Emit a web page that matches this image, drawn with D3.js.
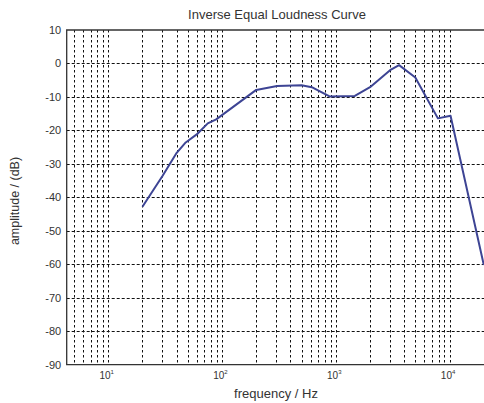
<!DOCTYPE html>
<html><head><meta charset="utf-8">
<script src="https://cdn.jsdelivr.net/npm/d3@7"></script>
<style>body{margin:0;background:#fff}svg{display:block}text{font-family:"Liberation Sans",Arial,sans-serif;fill:#333}</style>
</head><body><svg id="c" width="484" height="403"></svg>
<script>
const freqs = [20, 30, 40, 48, 60, 75, 89, 200, 305, 500, 615, 890, 1470, 2000, 3000, 3600, 5000, 7900, 10200, 20000];
const amps = [-42.8, -33.6, -26.7, -23.6, -21.2, -17.9, -16.7, -7.9, -6.7, -6.5, -7.1, -9.9, -9.7, -7.1, -2.0, -0.5, -4.2, -16.4, -15.6, -60.2];
const yTicks = [10, 0, -10, -20, -30, -40, -50, -60, -70, -80, -90];
const xMajor = [10, 100, 1000, 10000];
const xMajorExp = ["1", "2", "3", "4"];
const xDomain = [4.32, 20900];
const yDomain = [-90, 10];
const title = "Inverse Equal Loudness Curve";
const xLabel = "frequency / Hz";
const yLabel = "amplitude / (dB)";

const L = 66.7, R = 486, T = 30, B = 364.7;
const svg = d3.select("#c");
const x = d3.scaleLog().domain(xDomain).range([L, R]);
const y = d3.scaleLinear().domain(yDomain).range([B, T]);

const vgrid = [];
for (let d = 1; d <= 10000; d *= 10) for (let k = 1; k < 10; k++) { const v = d * k; if (v > xDomain[0] && v < xDomain[1]) vgrid.push(v); }
const g = svg.append("g");
g.selectAll("line.v").data(vgrid).enter().append("line")
  .attr("x1", d => Math.round(x(d)) + 0.5).attr("x2", d => Math.round(x(d)) + 0.5)
  .attr("y1", T).attr("y2", B).attr("stroke", "#111").attr("stroke-width", 1).attr("stroke-dasharray", "2.5,2.5");
g.selectAll("line.h").data(yTicks.filter(d => d > yDomain[0] && d < yDomain[1])).enter().append("line")
  .attr("y1", d => Math.round(y(d)) + 0.5).attr("y2", d => Math.round(y(d)) + 0.5)
  .attr("x1", L).attr("x2", R).attr("stroke", "#111").attr("stroke-width", 1).attr("stroke-dasharray", "3,2");

const pts = freqs.map((f, i) => [f, amps[i]]);
svg.append("path").datum(pts)
  .attr("d", d3.line().x(d => x(d[0])).y(d => y(d[1])))
  .attr("fill", "none").attr("stroke", "#3d4494").attr("stroke-width", 2).attr("stroke-linejoin", "round");

svg.append("path").attr("d", `M${R},${T}H${L}V${B}H${R}`).attr("fill", "none").attr("stroke", "#333").attr("stroke-width", 1.3);

svg.selectAll("text.yt").data(yTicks).enter().append("text")
  .attr("x", L - 5.5).attr("y", d => y(d) + 4).attr("text-anchor", "end").attr("font-size", 11).text(d => d);

xMajor.forEach((v, i) => {
  const t = svg.append("text").attr("x", x(v) - 1.5).attr("y", 379).attr("text-anchor", "middle").attr("font-size", 10);
  t.append("tspan").text("10");
  t.append("tspan").attr("dy", -5).attr("font-size", 6).text(xMajorExp[i]);
});

svg.append("text").attr("x", 277).attr("y", 19).attr("text-anchor", "middle").attr("font-size", 13).text(title);
svg.append("text").attr("x", 276).attr("y", 398).attr("text-anchor", "middle").attr("font-size", 13).text(xLabel);
svg.append("text").attr("transform", `translate(19,201) rotate(-90)`).attr("text-anchor", "middle").attr("font-size", 12.5).text(yLabel);
</script></body></html>
